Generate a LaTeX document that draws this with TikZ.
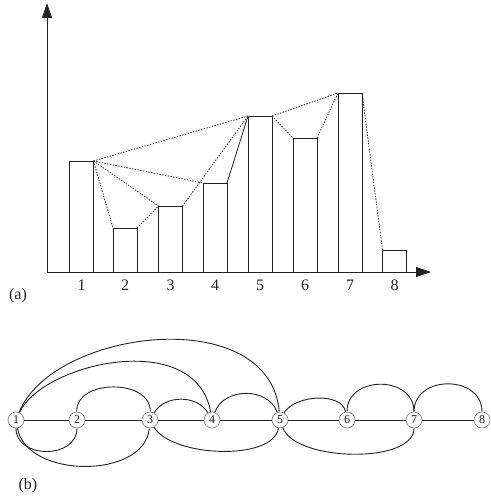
\documentclass[tikz,border=0pt]{standalone}
\usepackage{fontspec}
\setmainfont{Liberation Serif}
\usetikzlibrary{arrows.meta, positioning}
\definecolor{inkDark}{RGB}{35, 35, 35}
\definecolor{ringGray}{RGB}{140, 140, 140}

\begin{document}
\begin{tikzpicture}[
    x=1pt, y=1pt,
    bar/.style={
        rectangle,
        draw=inkDark,
        line width=0.8pt,
        minimum width=24pt,
        inner sep=0pt,
        outer sep=0pt,
        anchor=south
    },
    axis/.style={
        -{Triangle[length=15pt, width=10pt]},
        line width=0.8pt,
        color=inkDark
    },
    hull/.style={
        dash pattern=on 1.4pt off 1.4pt,
        line width=0.8pt,
        color=inkDark
    },
    solidhull/.style={
        line width=0.8pt,
        color=inkDark
    },
    tick/.style={
        font=\fontsize{16}{18}\selectfont,
        text=inkDark
    },
    vertex/.style={
        circle,
        draw=ringGray,
        fill=white,
        line width=0.7pt,
        minimum size=16pt,
        inner sep=0pt,
        font=\fontsize{12}{12}\selectfont,
        text=inkDark
    },
    link/.style={
        line width=0.9pt,
        color=inkDark
    }
]
\useasboundingbox (0,0) rectangle (490,-498);

% Axes
\coordinate (origin) at (47,-272);
\coordinate (ytop) at (47,-3);
\coordinate (xend) at (431,-272);
\draw[axis] (origin) -- (ytop);
\draw[axis] (origin) -- (xend);

% Bars
\node[bar, minimum height=111pt] (b1) at (81.5,-272) {};
\node[bar, minimum height=44pt] (b2) at (125,-272) {};
\node[bar, minimum height=66pt] (b3) at (170.5,-272) {};
\node[bar, minimum height=89pt] (b4) at (215,-272) {};
\node[bar, minimum height=156pt] (b5) at (260,-272) {};
\node[bar, minimum height=134pt] (b6) at (305,-272) {};
\node[bar, minimum height=179pt] (b7) at (350,-272) {};
\node[bar, minimum height=22pt] (b8) at (394.5,-272) {};

% Bar labels
\node[tick, below=4pt of b1] (l1) {1};
\node[tick, below=4pt of b2] (l2) {2};
\node[tick, below=4pt of b3] (l3) {3};
\node[tick, below=4pt of b4] (l4) {4};
\node[tick, below=4pt of b5] (l5) {5};
\node[tick, below=4pt of b6] (l6) {6};
\node[tick, below=4pt of b7] (l7) {7};
\node[tick, below=4pt of b8] (l8) {8};

% Visibility lines
\draw[hull] (b1.north east) -- (b2.north west);
\draw[hull] (b1.north east) -- (b3.north west);
\draw[hull] (b1.north east) -- (b4.north west);
\draw[hull] (b1.north east) -- (b5.north west);
\draw[hull] (b2.north east) -- (b3.north west);
\draw[hull] (b3.north east) -- (b5.north west);
\draw[solidhull] (b4.north east) -- (b5.north west);
\draw[hull] (b5.north east) -- (b6.north west);
\draw[hull] (b5.north east) -- (b7.north west);
\draw[hull] (b6.north east) -- (b7.north west);
\draw[hull] (b7.north east) -- (b8.north west);

\node[tick] (capA) at (18,-296) {(a)};

% Graph vertices
\node[vertex] (n1) at (16,-420) {1};
\node[vertex] (n2) at (77,-420) {2};
\node[vertex] (n3) at (150,-420) {3};
\node[vertex] (n4) at (212,-420) {4};
\node[vertex] (n5) at (280,-420) {5};
\node[vertex] (n6) at (347,-420) {6};
\node[vertex] (n7) at (414,-420) {7};
\node[vertex] (n8) at (482,-420) {8};

% Path edges
\draw[link] (n1) -- (n2) -- (n3) -- (n4) -- (n5) -- (n6) -- (n7) -- (n8);

% Upper arcs
\draw[link] (n1) to[out=68, in=95, out distance=90pt, in distance=110pt] (n5);
\draw[link] (n1) to[out=65, in=100, out distance=55pt, in distance=85pt] (n4);
\draw[link] (n2) to[out=92, in=88, looseness=1.15] (n3);
\draw[link] (n3) to[out=60, in=120] (n4);
\draw[link] (n4) to[out=70, in=110, looseness=1.1] (n5);
\draw[link] (n5) to[out=60, in=100, looseness=0.85] (n6);
\draw[link] (n6) to[out=90, in=90, looseness=1.4] (n7);
\draw[link] (n7) to[out=90, in=90, looseness=1.4] (n8);

% Lower arcs
\draw[link] (n1) to[out=-90, in=-90, looseness=1.3] (n2);
\draw[link] (n1) to[out=-80, in=-95] (n3);
\draw[link] (n3) to[out=-60, in=-100, looseness=0.7] (n5);
\draw[link] (n5) to[out=-70, in=-90, looseness=0.7] (n7);

\node[tick] (capB) at (28,-486) {(b)};

\end{tikzpicture}
\end{document}
